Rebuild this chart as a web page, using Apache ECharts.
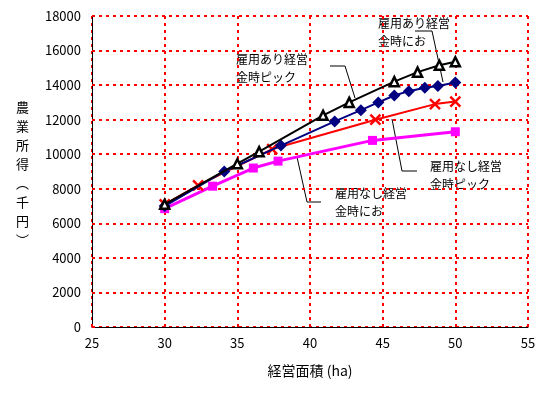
<!DOCTYPE html>
<html><head><meta charset="utf-8">
<script src="https://cdn.jsdelivr.net/npm/echarts@6/dist/echarts.min.js"></script>
<style>html,body{margin:0;padding:0;background:#fff}#c{width:556px;height:393px}</style>
</head><body><div id="c"></div>
<script>
const xTicks = [25, 30, 35, 40, 45, 50, 55];
const yTicks = [0, 2000, 4000, 6000, 8000, 10000, 12000, 14000, 16000, 18000];
const seriesNames = ['雇用あり経営金時にお', '雇用あり経営金時ピック', '雇用なし経営金時ピック', '雇用なし経営金時にお'];
const blackData = [[30,7100],[35,9450],[36.5,10150],[40.9,12250],[42.7,13000],[45.8,14200],[47.4,14750],[48.9,15150],[50,15350]];
const navyData = [[30,7000],[34.1,9000],[38,10500],[41.7,11900],[43.5,12550],[44.7,13000],[45.8,13400],[46.8,13650],[47.9,13850],[48.8,13950],[50,14150]];
const redData = [[30,7100],[32.3,8200],[37.4,10300],[44.5,12000],[48.6,12900],[50,13050]];
const magentaData = [[30,6850],[33.3,8150],[36.1,9200],[37.8,9600],[44.3,10800],[50,11300]];

const FONT = '"Noto Sans CJK JP", sans-serif';
const chart = echarts.init(document.getElementById('c'));
const split = {show:true, lineStyle:{color:'#ff0000', width:2, type:[3,4]}};
const txt = (x,y,s) => ({type:'text', left:x, top:y, style:{text:s, font:'12px '+FONT, fill:'#000', lineHeight:18}});
const pl = (pts) => ({type:'polyline', shape:{points:pts}, style:{stroke:'#000', lineWidth:1, fill:null}});
chart.setOption({
  animation:false,
  grid:{left:92, right:28, top:16, bottom:66},
  xAxis:{type:'value', min:xTicks[0], max:xTicks[xTicks.length-1], interval:5,
    axisLine:{lineStyle:{color:'#000'}}, axisTick:{inside:true, length:3, lineStyle:{color:'#ff0000', width:2}},
    axisLabel:{color:'#000', fontSize:13, fontFamily:FONT, margin:10},
    splitLine:split,
    name:'経営面積 (ha)', nameLocation:'middle', nameGap:37, nameTextStyle:{color:'#000', fontSize:14, fontFamily:FONT}},
  yAxis:{type:'value', min:yTicks[0], max:yTicks[yTicks.length-1], interval:2000,
    axisLine:{show:true, lineStyle:{color:'#000'}}, axisTick:{show:true, inside:true, length:3, lineStyle:{color:'#ff0000', width:2}},
    axisLabel:{color:'#000', fontSize:13, fontFamily:FONT, margin:11, formatter:(v)=>String(v)},
    splitLine:split},
  graphic:[
    {type:'text', left:16, top:98, style:{text:'農\n業\n所\n得\n︵\n千\n円\n︶', font:'13px '+FONT, fill:'#000', lineHeight:19}},
    txt(378,14,'雇用あり経営\n金時にお'),
    txt(236,50,'雇用あり経営\n金時ピック'),
    txt(430,157,'雇用なし経営\n金時ピック'),
    txt(335,184,'雇用なし経営\n金時にお'),
    pl([[415,31],[432,31],[443,82]]),
    pl([[330,66],[345,66],[355,98]]),
    pl([[392,119],[402,171],[417,171]]),
    pl([[297,157],[307,202],[321,202]])
  ],
  series:[
    {name:seriesNames[3], type:'line', data:magentaData, color:'#ff00ff', lineStyle:{color:'#ff00ff', width:3},
     symbol:'rect', symbolSize:9, itemStyle:{color:'#ff00ff'}, z:2},
    {name:seriesNames[2], type:'line', data:redData, color:'#ff0000', lineStyle:{color:'#ff0000', width:2},
     symbol:'path://M0,0L10,10M10,0L0,10', symbolSize:10, itemStyle:{color:'#ff0000', borderColor:'#ff0000', borderWidth:2.5}, z:3},
    {name:seriesNames[1], type:'line', data:navyData, color:'#000080', lineStyle:{color:'#000080', width:2},
     symbol:'diamond', symbolSize:12, itemStyle:{color:'#000080'}, z:4},
    {name:seriesNames[0], type:'line', data:blackData, color:'#000', lineStyle:{color:'#000', width:2},
     symbol:'triangle', symbolSize:9, itemStyle:{color:'#fff', borderColor:'#000', borderWidth:2.5}, z:5}
  ]
});
</script></body></html>
